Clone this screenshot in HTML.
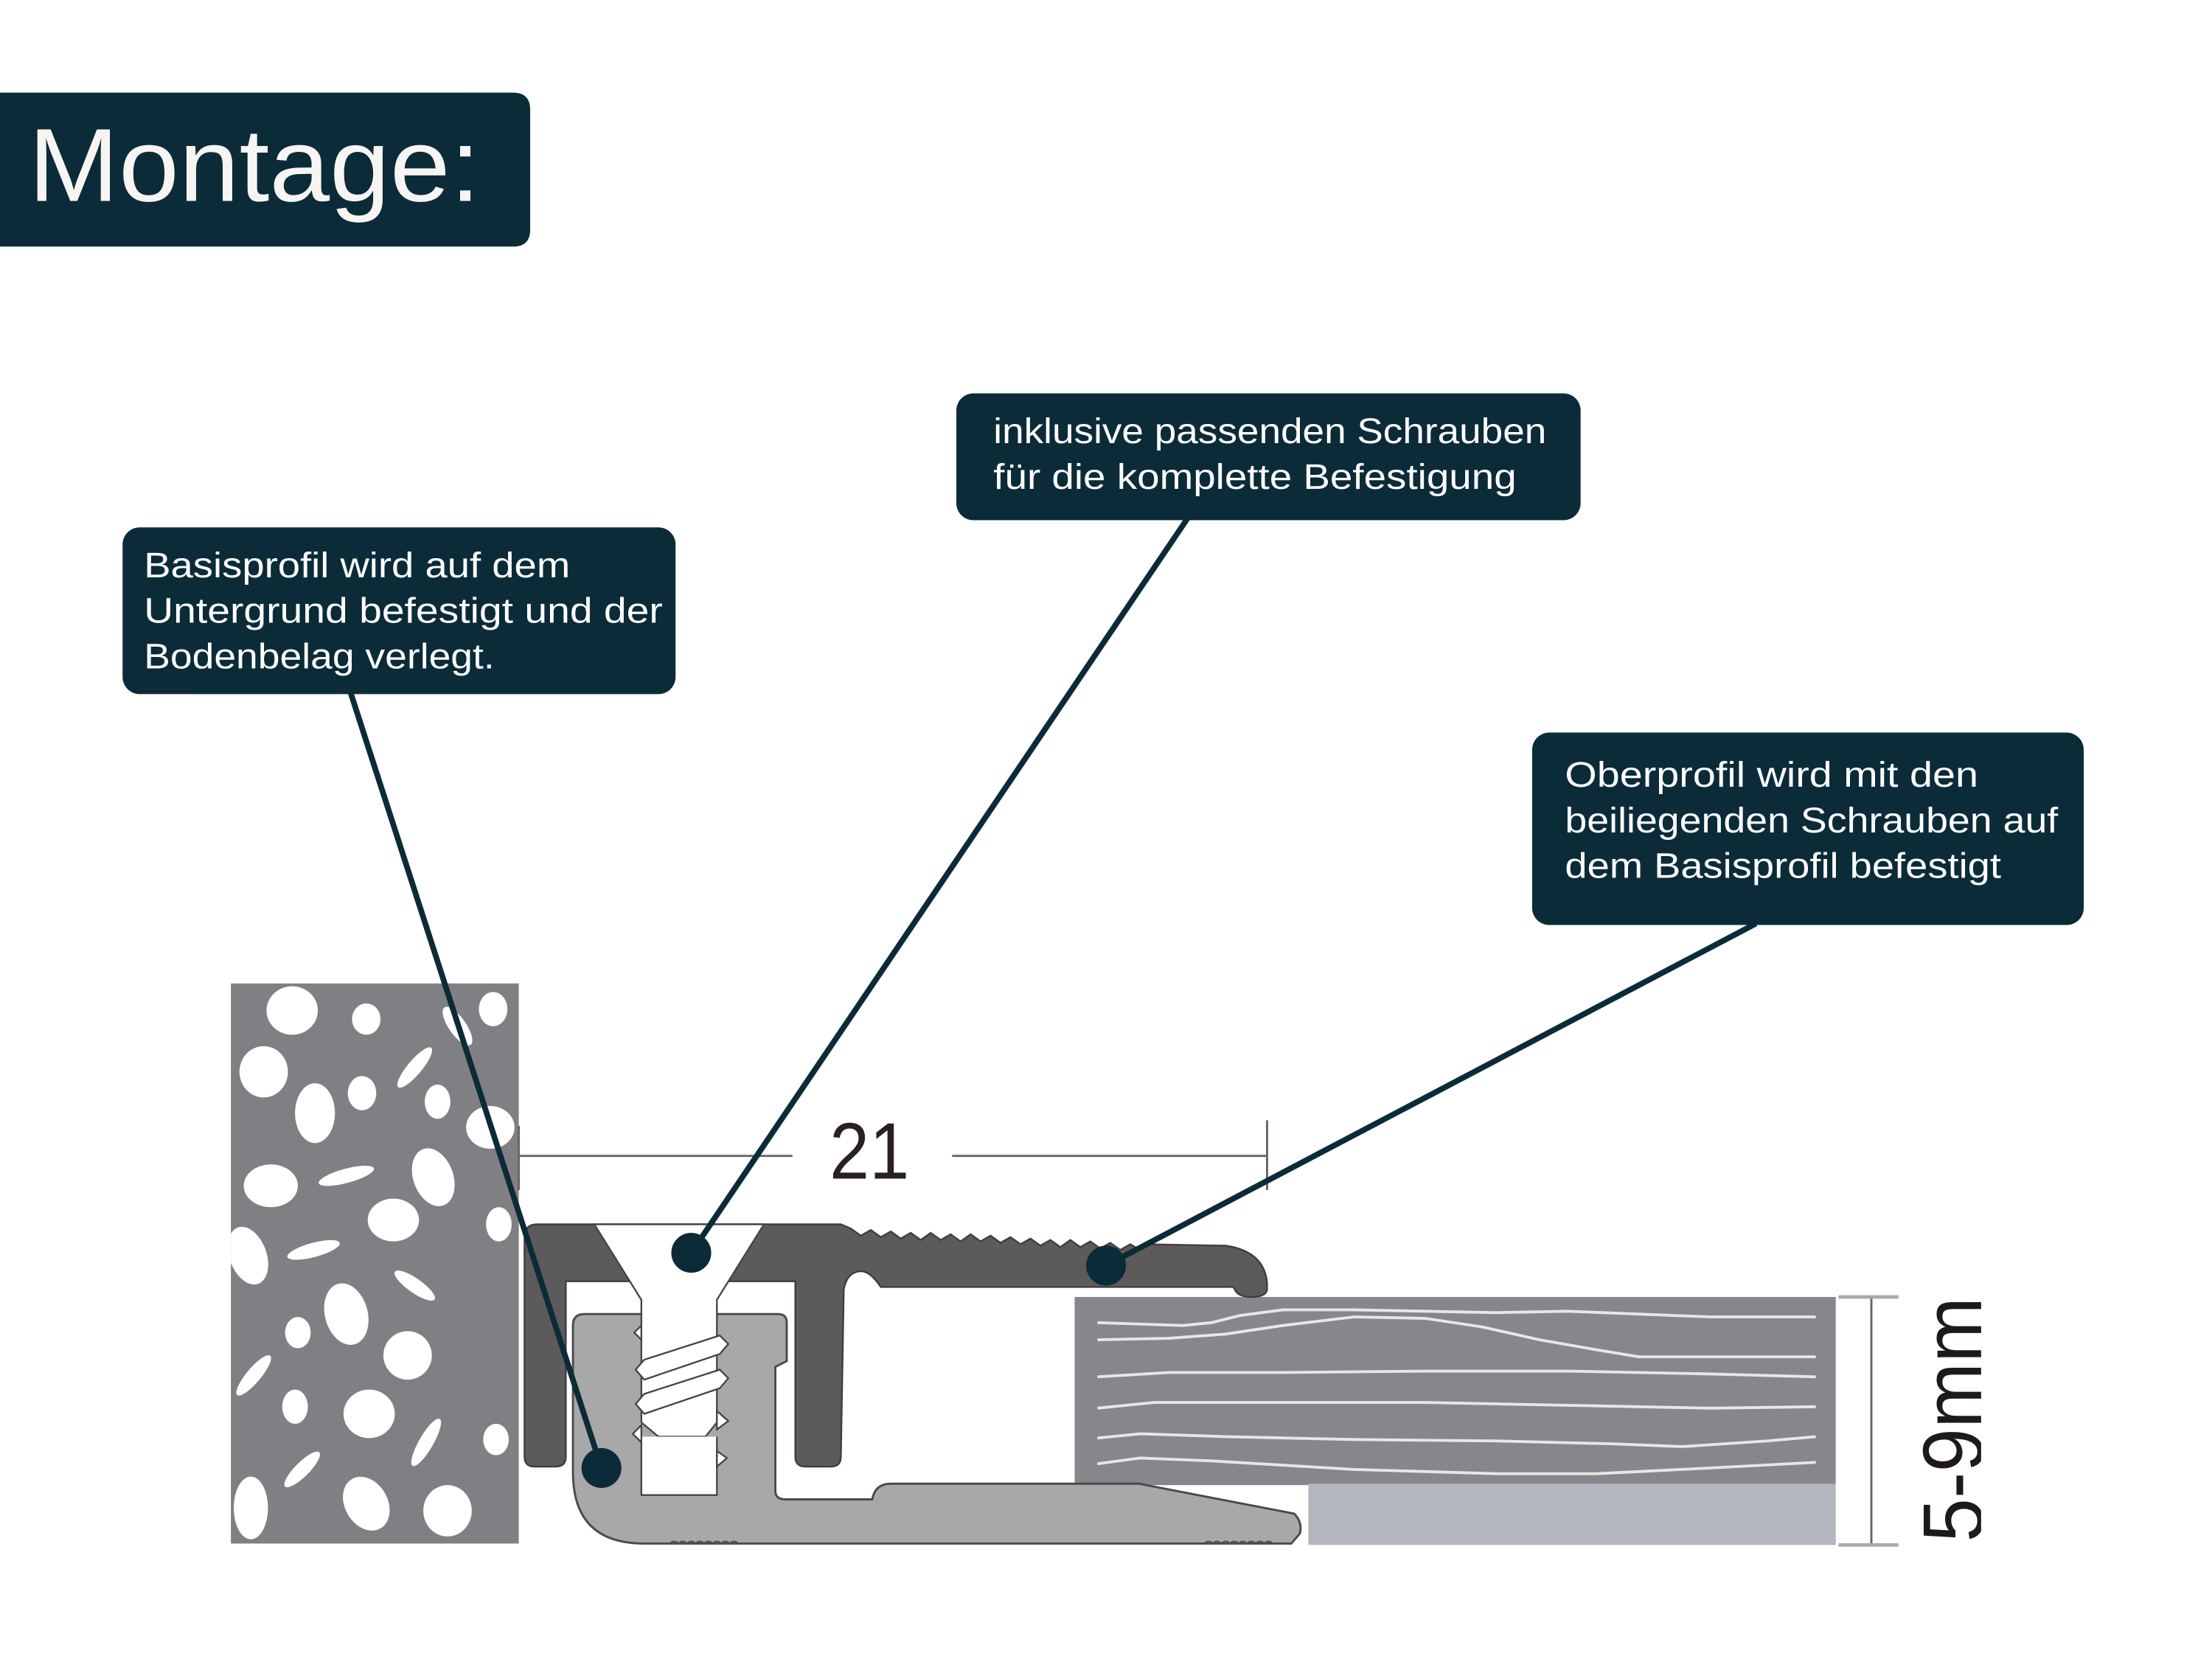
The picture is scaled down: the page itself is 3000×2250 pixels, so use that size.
<!DOCTYPE html>
<html><head><meta charset="utf-8"><style>
html,body{margin:0;padding:0;background:#fff;}
svg{display:block;}
</style></head><body>
<svg xmlns="http://www.w3.org/2000/svg" width="3000" height="2250" viewBox="0 0 1552 1164">
<defs>
<clipPath id="stone"><rect x="162" y="690" width="202" height="393"/></clipPath>
<clipPath id="txt"><rect x="1300" y="880" width="90" height="230"/></clipPath>
</defs>
<rect width="1552" height="1164" fill="#fff"/>

<path d="M0,65 L360,65 Q372,65 372,77 L372,161 Q372,173 360,173 L0,173 Z" fill="#0b2b38"/>
<text x="20" y="141" font-family="Liberation Sans, sans-serif" font-size="73" fill="#f7f5f2" textLength="317" lengthAdjust="spacingAndGlyphs">Montage:</text>

<rect x="86" y="370" width="388" height="117" rx="12" fill="#0b2b38"/>
<g font-family="Liberation Sans, sans-serif" font-size="25" fill="#fff">
<text x="101" y="405" textLength="299" lengthAdjust="spacingAndGlyphs">Basisprofil wird auf dem</text>
<text x="101" y="437" textLength="364" lengthAdjust="spacingAndGlyphs">Untergrund befestigt und der</text>
<text x="101" y="469" textLength="246" lengthAdjust="spacingAndGlyphs">Bodenbelag verlegt.</text>
</g>
<rect x="671" y="276" width="438" height="89" rx="12" fill="#0b2b38"/>
<g font-family="Liberation Sans, sans-serif" font-size="25" fill="#fff">
<text x="697" y="311" textLength="388" lengthAdjust="spacingAndGlyphs">inklusive passenden Schrauben</text>
<text x="697" y="343" textLength="367" lengthAdjust="spacingAndGlyphs">für die komplette Befestigung</text>
</g>
<rect x="1075" y="514" width="387" height="135" rx="12" fill="#0b2b38"/>
<g font-family="Liberation Sans, sans-serif" font-size="25" fill="#fff">
<text x="1098" y="552" textLength="290" lengthAdjust="spacingAndGlyphs">Oberprofil wird mit den</text>
<text x="1098" y="584" textLength="346" lengthAdjust="spacingAndGlyphs">beiliegenden Schrauben auf</text>
<text x="1098" y="616" textLength="306" lengthAdjust="spacingAndGlyphs">dem Basisprofil befestigt</text>
</g>

<rect x="162" y="690" width="202" height="393" fill="#808084"/>
<g clip-path="url(#stone)" fill="#fff">
<ellipse cx="205" cy="709" rx="18" ry="17"/>
<ellipse cx="257" cy="715" rx="10" ry="11"/>
<ellipse cx="346" cy="708" rx="10" ry="12"/>
<ellipse cx="321" cy="720" rx="6" ry="16" transform="rotate(-35 321 720)"/>
<ellipse cx="185" cy="752" rx="17" ry="18"/>
<ellipse cx="291" cy="749" rx="5" ry="18" transform="rotate(40 291 749)"/>
<ellipse cx="254" cy="767" rx="10" ry="12"/>
<ellipse cx="221" cy="781" rx="14" ry="21"/>
<ellipse cx="307" cy="773" rx="9" ry="12"/>
<ellipse cx="344" cy="791" rx="17" ry="15"/>
<ellipse cx="190" cy="832" rx="19" ry="15"/>
<ellipse cx="243" cy="825" rx="20" ry="5" transform="rotate(-15 243 825)"/>
<ellipse cx="304" cy="826" rx="14" ry="21" transform="rotate(-20 304 826)"/>
<ellipse cx="276" cy="856" rx="18" ry="15"/>
<ellipse cx="350" cy="859" rx="9" ry="12"/>
<ellipse cx="174" cy="881" rx="13" ry="21" transform="rotate(-20 174 881)"/>
<ellipse cx="220" cy="877" rx="19" ry="5" transform="rotate(-15 220 877)"/>
<ellipse cx="291" cy="902" rx="5" ry="17" transform="rotate(-55 291 902)"/>
<ellipse cx="243" cy="922" rx="15" ry="22" transform="rotate(-15 243 922)"/>
<ellipse cx="209" cy="935" rx="9" ry="11"/>
<ellipse cx="286" cy="951" rx="17" ry="17"/>
<ellipse cx="178" cy="965" rx="5" ry="18" transform="rotate(40 178 965)"/>
<ellipse cx="207" cy="987" rx="9" ry="12"/>
<ellipse cx="259" cy="992" rx="18" ry="17"/>
<ellipse cx="299" cy="1012" rx="5" ry="19" transform="rotate(30 299 1012)"/>
<ellipse cx="348" cy="1010" rx="9" ry="11"/>
<ellipse cx="212" cy="1031" rx="5" ry="17" transform="rotate(45 212 1031)"/>
<ellipse cx="176" cy="1058" rx="12" ry="22"/>
<ellipse cx="257" cy="1055" rx="15" ry="20" transform="rotate(-30 257 1055)"/>
<ellipse cx="314" cy="1060" rx="17" ry="18"/>
</g>

<g stroke="#6b6363" stroke-width="1.5" fill="none">
<line x1="364" y1="811" x2="556" y2="811"/>
<line x1="668" y1="811" x2="889" y2="811"/>
<line x1="889" y1="786" x2="889" y2="835"/>
<line x1="364" y1="790" x2="364" y2="835"/>
</g>
<text x="610" y="827" text-anchor="middle" font-family="Liberation Sans, sans-serif" font-size="56" fill="#2b2020" textLength="56" lengthAdjust="spacingAndGlyphs">21</text>

<rect x="754" y="910" width="534" height="132" fill="#86878a"/>
<rect x="918" y="1041" width="370" height="43" fill="#b3b6be"/>
<g stroke="#f2f2f2" stroke-width="2" fill="none" opacity="0.9">
<path d="M770,928 L800,929 L830,930 L850,928 L870,923 L900,919 L950,919 L1000,920 L1050,921 L1100,920 L1150,922 L1200,924 L1274,924"/>
<path d="M770,940 L820,939 L860,936 L900,930 L950,924 L1000,925 L1040,931 L1080,940 L1120,947 L1150,952 L1274,952"/>
<path d="M770,966 L820,963 L900,963 L1000,962 L1100,962 L1200,964 L1274,966"/>
<path d="M770,988 L810,984 L900,984 L1000,984 L1100,986 L1200,988 L1274,987"/>
<path d="M770,1009 L800,1006 L860,1008 L950,1010 L1050,1011 L1130,1013 L1180,1015 L1240,1011 L1274,1008"/>
<path d="M770,1027 L800,1023 L850,1025 L950,1031 L1050,1034 L1120,1034 L1200,1030 L1274,1026"/>
</g>

<g stroke="#6b6363" stroke-width="1.5">
<line x1="1313" y1="910" x2="1313" y2="1084"/>
<line x1="1290" y1="910" x2="1332" y2="910" stroke="#aaa" stroke-width="2.5"/>
<line x1="1290" y1="1084" x2="1332" y2="1084" stroke="#aaa" stroke-width="2.5"/>
</g>
<g clip-path="url(#txt)">
<text transform="translate(1391,1082) rotate(-90)" font-family="Liberation Sans, sans-serif" font-size="60" fill="#1f1a1a" textLength="172" lengthAdjust="spacingAndGlyphs">5-9mm</text>
</g>

<path d="M402,930 Q402,922 410,922 L546,922 Q552,922 552,928 L552,955 L544,959 L544,1046 Q544,1052 551,1052 L612,1052 Q614,1041 625,1041 L799,1041 L908,1062 Q914,1068 912,1076 L906,1083 L452,1083 Q402,1083 402,1033 Z" fill="#a8a8a9" stroke="#4a4a4a" stroke-width="1.5"/>
<path d="M470,1083 q3,-3 6,0 q3,-3 6,0 q3,-3 6,0 q3,-3 6,0 q3,-3 6,0 q3,-3 6,0 q3,-3 6,0 q3,-3 6,0 M845,1083 q3,-3 6,0 q3,-3 6,0 q3,-3 6,0 q3,-3 6,0 q3,-3 6,0 q3,-3 6,0 q3,-3 6,0 q3,-3 6,0" fill="none" stroke="#4a4a4a" stroke-width="1"/>

<path d="M368,868 Q368,859 377,859 L590,859 L597,862 L604,867 L611,863 L618,868 L625,864 L632,869 L639,865 L646,870 L653,865 L660,870 L667,866 L674,871 L681,866 L688,871 L695,867 L702,872 L709,868 L716,873 L723,869 L730,874 L737,870 L744,875 L751,870 L758,875 L765,871 L772,876 L779,872 L786,877 L793,873 L800,877 L805,873 L860,874 Q887,878 889,900 L889,905 Q888,910 878,910 Q868,910 866,904 L865,903 L618,903 Q610,891 603,892 Q594,893 592,905 L590,1022 Q590,1029 583,1029 L565,1029 Q558,1029 558,1022 L558,899 L397,899 L397,1022 Q397,1029 390,1029 L375,1029 Q368,1029 368,1022 Z" fill="#5d5a5b" stroke="#403c3d" stroke-width="1.2"/>

<path d="M417,859 L536,859 L503,912 L503,998 L495,1008 L462,1008 L450,998 L450,912 Z" fill="#fff" stroke="#444" stroke-width="1.2"/>
<rect x="450" y="1008" width="53" height="41" fill="#fff"/>
<path d="M450,1008 L450,1049 L503,1049 L503,1008" fill="none" stroke="#444" stroke-width="1.2"/>
<g fill="#fff" stroke="#444" stroke-width="1.2">
<path d="M446,961 L452,954 L505,937 L511,943 L505,950 L452,968 Z"/>
<path d="M446,985 L452,978 L505,961 L511,967 L505,974 L452,992 Z"/>
<path d="M503,990 L511,997 L503,1003 Z"/>
<path d="M450,930 L445,935 L450,940 Z"/>
<path d="M450,1000 L444,1006 L450,1012 Z"/>
<path d="M503,1018 L510,1023 L503,1029 Z"/>
</g>

<g stroke="#0b2b38" stroke-width="4" fill="none">
<line x1="246" y1="486" x2="422" y2="1030"/>
<line x1="833" y1="364" x2="485" y2="879"/>
<line x1="1232" y1="648" x2="776" y2="888"/>
</g>
<g fill="#0b2b38">
<circle cx="422" cy="1030" r="14"/>
<circle cx="485" cy="879" r="14"/>
<circle cx="776" cy="888" r="14"/>
</g>
</svg>
</body></html>
